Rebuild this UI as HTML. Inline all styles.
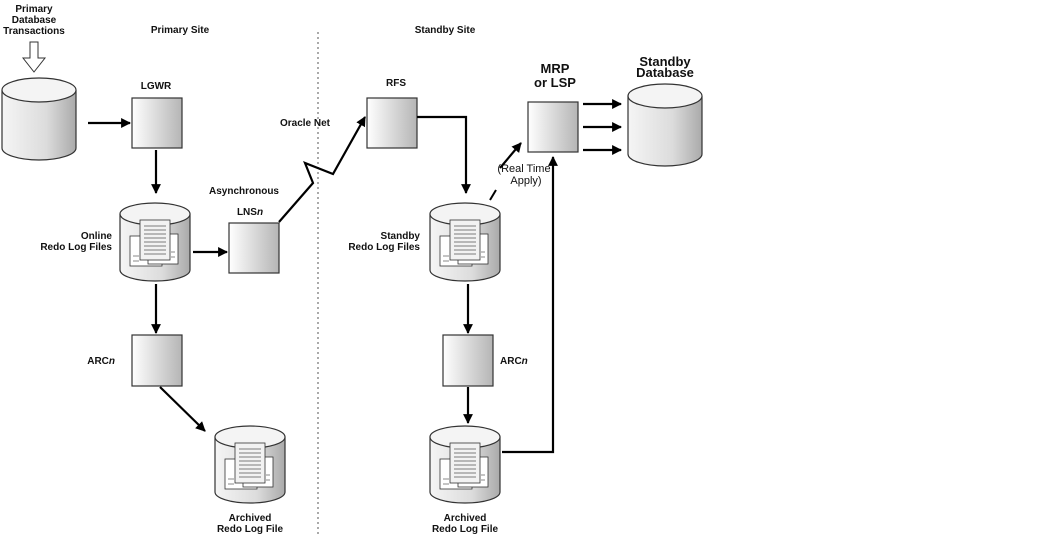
<!DOCTYPE html>
<html><head><meta charset="utf-8"><style>
html,body{margin:0;padding:0;background:#fff}
svg{display:block}
text{font-family:"Liberation Sans",Arial,sans-serif;font-weight:bold;font-size:10px;fill:#111}
text.big{font-size:13px}
text.rt{font-weight:normal;font-size:11px}
</style></head><body>
<svg width="1062" height="536" viewBox="0 0 1062 536" xmlns="http://www.w3.org/2000/svg">
<defs>
<linearGradient id="g" x1="0" y1="0" x2="1" y2="0"><stop offset="0" stop-color="#fff"/><stop offset="1" stop-color="#b5b5b5"/></linearGradient>
<linearGradient id="c" x1="0" y1="0" x2="1" y2="0"><stop offset="0" stop-color="#f5f5f5"/><stop offset="0.6" stop-color="#dcdcdc"/><stop offset="1" stop-color="#aaa"/></linearGradient>
<marker id="a" viewBox="0 0 10 10" refX="9" refY="5" markerWidth="4.5" markerHeight="4.5" orient="auto"><path d="M0,0L10,5L0,10z" fill="#000"/></marker>
<g id="doc">
<rect x="-22" y="-6" width="32" height="30" fill="#fff" stroke="#333" stroke-width="0.8"/>
<rect x="-4" y="-8" width="30" height="30" fill="#fff" stroke="#333" stroke-width="0.8"/>
<rect x="-12" y="-22" width="30" height="40" fill="#f2f2f2" stroke="#333" stroke-width="0.8"/>
<g stroke="#555" stroke-width="0.7"><line x1="-8" y1="-16" x2="14" y2="-16"/><line x1="-8" y1="-12" x2="14" y2="-12"/><line x1="-8" y1="-8" x2="14" y2="-8"/><line x1="-8" y1="-4" x2="14" y2="-4"/><line x1="-8" y1="0" x2="14" y2="0"/><line x1="-8" y1="4" x2="14" y2="4"/><line x1="-8" y1="8" x2="14" y2="8"/><line x1="-8" y1="12" x2="14" y2="12"/><line x1="-19" y1="14" x2="-13" y2="14"/><line x1="-19" y1="19" x2="-13" y2="19"/><line x1="19" y1="10" x2="23" y2="10"/><line x1="19" y1="15" x2="23" y2="15"/></g>
</g>
</defs>
<line x1="318" y1="32" x2="318" y2="536" stroke="#aaa" stroke-width="2" stroke-dasharray="2,3"/>
<g text-anchor="middle">
<text x="34" y="12">Primary</text><text x="34" y="23">Database</text><text x="34" y="34">Transactions</text>
<text x="180" y="33">Primary Site</text><text x="445" y="33">Standby Site</text>
<text x="156" y="89">LGWR</text><text x="396" y="86">RFS</text>
<text x="244" y="194">Asynchronous</text><text x="250" y="215">LNS<tspan font-style="italic">n</tspan></text>
<text x="305" y="126">Oracle Net</text>
<text class="big" x="555" y="73">MRP</text><text class="big" x="555" y="87">or LSP</text>
<text class="big" x="665" y="66">Standby</text><text class="big" x="665" y="77">Database</text>
<text class="rt" x="524" y="172">(Real Time</text><text class="rt" x="526" y="184">Apply)</text>
<text x="250" y="521">Archived</text><text x="250" y="532">Redo Log File</text>
<text x="465" y="521">Archived</text><text x="465" y="532">Redo Log File</text>
</g>
<g text-anchor="end">
<text x="112" y="239">Online</text><text x="112" y="250">Redo Log Files</text>
<text x="420" y="239">Standby</text><text x="420" y="250">Redo Log Files</text>
<text x="115" y="364">ARC<tspan font-style="italic">n</tspan></text>
</g>
<text x="500" y="364">ARC<tspan font-style="italic">n</tspan></text>
<path d="M30,42h8v16h7l-11,14l-11,-14h7z" fill="#fff" stroke="#333" stroke-width="1"/>
<g stroke="#333" stroke-width="1.2">
<path d="M2,90v58a37,12 0 0 0 74,0v-58" fill="url(#c)"/><ellipse cx="39" cy="90" rx="37" ry="12" fill="#f4f4f4"/>
<path d="M628,96v58a37,12 0 0 0 74,0v-58" fill="url(#c)"/><ellipse cx="665" cy="96" rx="37" ry="12" fill="#f4f4f4"/>
<path d="M120,214v56a35,11 0 0 0 70,0v-56" fill="url(#c)"/><ellipse cx="155" cy="214" rx="35" ry="11" fill="#f4f4f4"/>
<path d="M430,214v56a35,11 0 0 0 70,0v-56" fill="url(#c)"/><ellipse cx="465" cy="214" rx="35" ry="11" fill="#f4f4f4"/>
<path d="M215,437v55a35,11 0 0 0 70,0v-55" fill="url(#c)"/><ellipse cx="250" cy="437" rx="35" ry="11" fill="#f4f4f4"/>
<path d="M430,437v55a35,11 0 0 0 70,0v-55" fill="url(#c)"/><ellipse cx="465" cy="437" rx="35" ry="11" fill="#f4f4f4"/>
</g>
<use href="#doc" x="152" y="242"/><use href="#doc" x="462" y="242"/><use href="#doc" x="247" y="465"/><use href="#doc" x="462" y="465"/>
<g fill="url(#g)" stroke="#333" stroke-width="1.2">
<rect x="132" y="98" width="50" height="50"/><rect x="229" y="223" width="50" height="50"/>
<rect x="367" y="98" width="50" height="50"/><rect x="528" y="102" width="50" height="50"/>
<rect x="132" y="335" width="50" height="51"/><rect x="443" y="335" width="50" height="51"/>
</g>
<g stroke="#000" stroke-width="2.2" fill="none" marker-end="url(#a)">
<line x1="88" y1="123" x2="130" y2="123"/>
<line x1="156" y1="150" x2="156" y2="193"/>
<line x1="193" y1="252" x2="227" y2="252"/>
<line x1="156" y1="284" x2="156" y2="333"/>
<line x1="160" y1="387" x2="205" y2="431"/>
<path d="M279,222L313,183L305,163L333,174L365,117"/>
<path d="M417,117H466V193"/>
<line x1="468" y1="284" x2="468" y2="333"/>
<line x1="468" y1="387" x2="468" y2="423"/>
<path d="M502,452H553V157"/>
<line x1="500" y1="168" x2="521" y2="143"/>
<line x1="583" y1="104" x2="621" y2="104"/>
<line x1="583" y1="127" x2="621" y2="127"/>
<line x1="583" y1="150" x2="621" y2="150"/>
</g>
<line x1="490" y1="200" x2="496" y2="190" stroke="#000" stroke-width="2"/>
</svg>
</body></html>
